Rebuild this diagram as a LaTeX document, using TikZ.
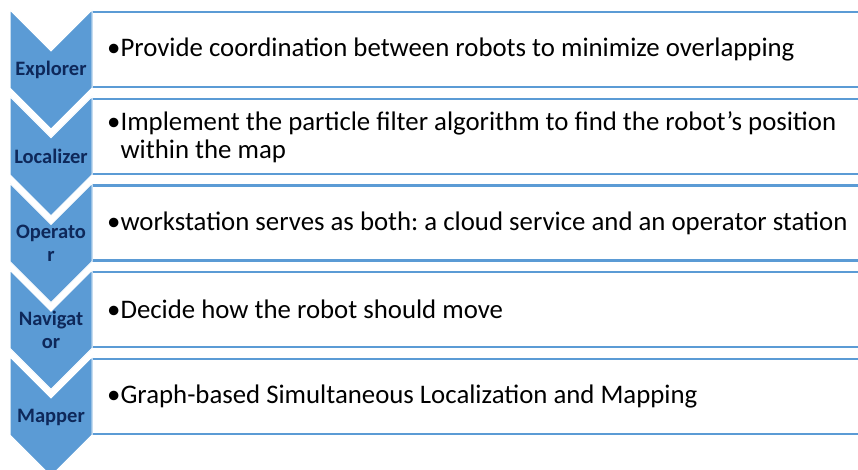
\documentclass[tikz,border=0pt]{standalone}
\usepackage{fontspec}
\setmainfont{Carlito}
\frenchspacing
\definecolor{obl}{RGB}{91,155,213}
\definecolor{navy}{RGB}{14,40,90}
\begin{document}
\begin{tikzpicture}[x=1pt,y=-1pt,
  chev/.style={fill=obl,draw=white,line width=1pt,line join=miter},
  tbox/.style={fill=white,draw=obl,line width=2.4pt},
  clabel/.style={font=\fontsize{20.5}{23}\selectfont\bfseries,text=navy,align=center,inner sep=0pt},
  btext/.style={font=\fontsize{26.8}{28}\selectfont,text=black,align=left,anchor=west,inner sep=0pt}]
\useasboundingbox (0,0) rectangle (858,470);
\begin{scope}
\clip (0,0) rectangle (858,470);
\foreach \i in {0,...,4}{
  \pgfmathsetmacro{\bt}{12+\i*86.75}
  \draw[tbox] (92,\bt) rectangle (880,\bt+75);
}
\foreach \i in {0,...,4}{
  \pgfmathsetmacro{\ct}{10+\i*86.75}
  \fill[chev] (10,\ct) -- (51,\ct+41) -- (92,\ct) -- (92,\ct+78) -- (51,\ct+119) -- (10,\ct+78) -- cycle;
}
\end{scope}
\node[clabel] (l1) at (51,70) {Explorer};
\node[clabel] (l2) at (51,156.75) {Localizer};
\node[clabel] (l3) at (51,243.5) {Operato\\r};
\node[clabel] (l4) at (51,330.25) {Navigat\\or};
\node[clabel] (l5) at (51,417) {Mapper};
\node[btext] (t1) at (107,49.5) {•Provide coordination between robots to minimize overlapping};
\node[btext] (t2) at (107,137) {•Implement the particle filter algorithm to find the robot’s position\\\hphantom{•}within the map};
\node[btext] (t3) at (107,223) {•workstation serves as both: a cloud service and an operator station};
\node[btext] (t4) at (107,309.75) {•Decide how the robot should move};
\node[btext] (t5) at (107,396.5) {•Graph-based Simultaneous Localization and Mapping};
\end{tikzpicture}
\end{document}
